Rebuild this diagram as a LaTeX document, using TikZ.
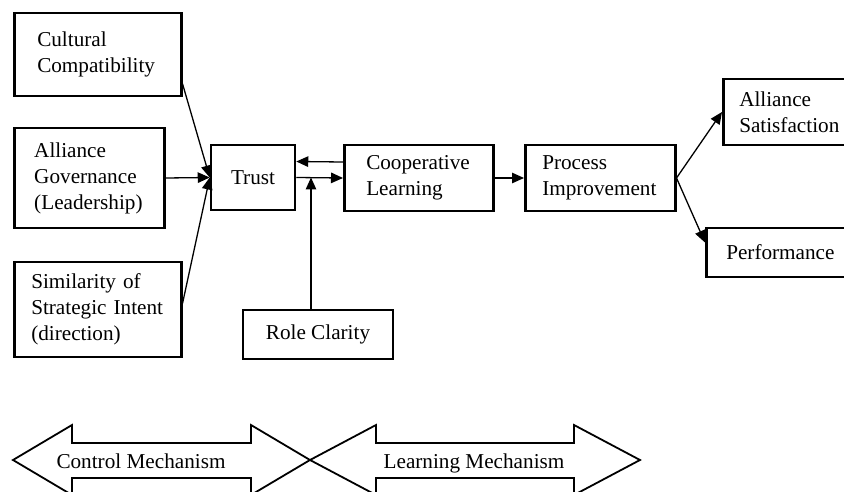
\documentclass[tikz,border=0pt]{standalone}
\usepackage{fontspec}
\setmainfont{Liberation Serif}
\usetikzlibrary{arrows.meta,positioning,calc}

\begin{document}
\begin{tikzpicture}[
    x=1pt, y=-1pt,
    every node/.style={font=\fontsize{21.2}{26}\selectfont},
    block/.style={draw,line width=2.5pt,align=left,anchor=west,inner ysep=0pt},
    cblock/.style={draw,line width=2.5pt,align=center,inner sep=0pt},
    arrow/.style={-{Triangle[length=12pt,width=10.5pt]},line width=1.3pt},
    mech/.style={draw,line width=1.8pt,line join=miter}
]
    \useasboundingbox (0,0) rectangle (844,492);

    % Antecedents on the left
    \node[block,inner xsep=23pt,text width=121pt,minimum height=83pt] (cult) at (13,54.5) {Cultural\\Compatibility};
    \node[block,inner xsep=20pt,text width=110pt,minimum height=100pt] (gov) at (13,178) {Alliance\\Governance\\(Leadership)};
    \node[block,inner xsep=17pt,text width=133pt,minimum height=95pt] (sim) at (13,309.5) {Similarity of\\Strategic~Intent\\(direction)};

    % Main chain
    \node[cblock,minimum width=84pt,minimum height=65pt] (trust) at (253,177.5) {Trust};
    \node[block,inner xsep=22pt,text width=105pt,minimum height=66pt] (coop) at (343,178) {Cooperative\\Learning};
    \node[block,inner xsep=17pt,text width=116pt,minimum height=66pt] (proc) at (524,178) {Process\\Improvement};
    \node[cblock,minimum width=150pt,minimum height=49pt] (role) at (318,334.5) {Role Clarity};

    % Outcomes on the right (running off the page)
    \node[block,inner xsep=16pt,text width=104pt,minimum height=66pt] (sat) at (722,112) {Alliance\\Satisfaction};
    \node[block,inner xsep=20pt,text width=110pt,minimum height=49pt] (perf) at (705,252.5) {Performance};

    % Links into trust
    \draw[arrow] (cult.-19) -- (trust.west);
    \draw[arrow] (gov.east) -- (trust.west);
    \draw[arrow] (sim.4) -- (trust.west);

    % Trust and learning, both ways
    \draw[arrow] ([yshift=16pt]coop.west) -- ([yshift=16pt]trust.east);
    \draw[arrow] (trust.east) -- (coop.west);
    \coordinate (rc) at ([xshift=-7pt]role.north);
    \draw[arrow] (rc) -- (rc |- trust.east);

    \draw[arrow] (coop.east) -- (proc.west);
    \draw[arrow] (proc.east) -- (sat.west);
    \draw[arrow] (proc.east) -- ([yshift=10pt]perf.west);

    % Mechanism arrows at the bottom
    \draw[mech] (13,460) -- (72,425) -- (72,443) -- (251,443) -- (251,425) -- (310,460)
        -- (251,495) -- (251,478) -- (72,478) -- (72,495) -- cycle;
    \draw[mech] (310,460) -- (376,425) -- (376,443) -- (574,443) -- (574,425) -- (640,460)
        -- (574,495) -- (574,478) -- (376,478) -- (376,495) -- cycle;
    \node[anchor=base] (ctrl) at (141,468) {Control Mechanism};
    \node[anchor=base] (learn) at (474,468) {Learning Mechanism};
\end{tikzpicture}
\end{document}
